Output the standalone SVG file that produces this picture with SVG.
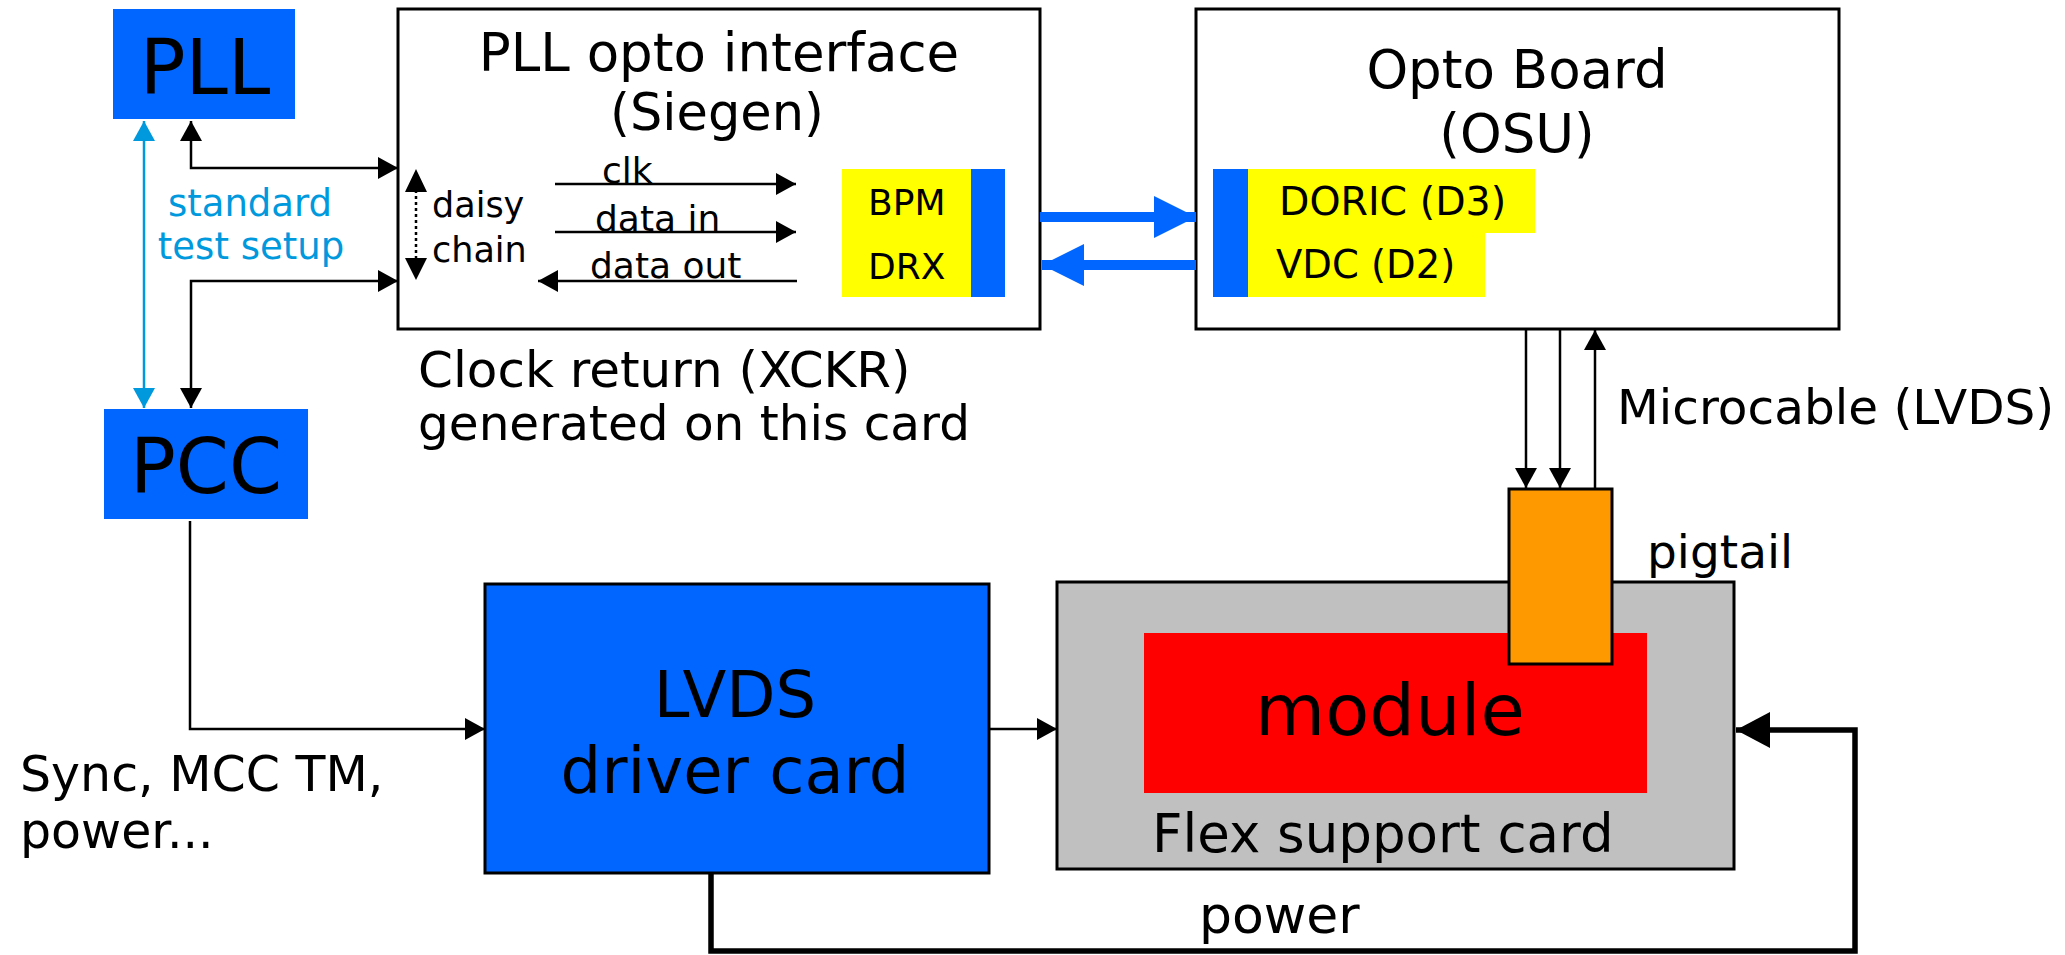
<svg xmlns="http://www.w3.org/2000/svg" width="2065" height="955" viewBox="0 0 2065 955">
<style>
text{font-family:"DejaVu Sans","Liberation Sans",sans-serif;fill:#000}
.c{text-anchor:middle}
.ln{fill:none;stroke:#000;stroke-width:2.5}
.bx{stroke:#000;stroke-width:3}
</style>
<defs>
<marker id="ah" markerUnits="userSpaceOnUse" viewBox="0 0 20 22" refX="20" refY="11" markerWidth="20" markerHeight="22" orient="auto-start-reverse"><path d="M0,0L20,11L0,22z" fill="#000"/></marker>
<marker id="ahc" markerUnits="userSpaceOnUse" viewBox="0 0 20 22" refX="20" refY="11" markerWidth="20" markerHeight="22" orient="auto-start-reverse"><path d="M0,0L20,11L0,22z" fill="#0099DD"/></marker>
<marker id="ahb" markerUnits="userSpaceOnUse" viewBox="0 0 42 42" refX="42" refY="21" markerWidth="42" markerHeight="42" orient="auto"><path d="M0,0L42,21L0,42z" fill="#0066FF"/></marker>
<marker id="ahp" markerUnits="userSpaceOnUse" viewBox="0 0 34 36" refX="34" refY="18" markerWidth="34" markerHeight="36" orient="auto"><path d="M0,0L34,18L0,36z" fill="#000"/></marker>
</defs>
<rect width="2065" height="955" fill="#fff"/>

<g id="pll-opto">
<rect x="398" y="9" width="642" height="320" fill="#fff" class="bx"/>
<text x="719" y="71" class="c" font-size="53">PLL opto interface</text>
<text x="717" y="130" class="c" font-size="51">(Siegen)</text>
<text x="432" y="217" font-size="35">daisy</text>
<text x="432" y="262" font-size="35">chain</text>
<text x="602" y="183" font-size="36">clk</text>
<text x="595" y="231" font-size="36">data in</text>
<text x="590" y="278" font-size="36">data out</text>
<rect x="842" y="169" width="129" height="64" fill="#FFFF00"/>
<rect x="842" y="233" width="129" height="64" fill="#FFFF00"/>
<rect x="971" y="169" width="34" height="128" fill="#0066FF"/>
<text x="868" y="215" font-size="36">BPM</text>
<text x="868" y="279" font-size="36">DRX</text>
</g>

<g id="opto-board">
<rect x="1196" y="9" width="643" height="320" fill="#fff" class="bx"/>
<text x="1517" y="88" class="c" font-size="53">Opto Board</text>
<text x="1517" y="152" class="c" font-size="53">(OSU)</text>
<rect x="1213" y="169" width="35" height="128" fill="#0066FF"/>
<rect x="1248" y="169" width="287" height="64" fill="#FFFF00"/>
<rect x="1248" y="233" width="237" height="64" fill="#FFFF00"/>
<text x="1279" y="215" font-size="39.5">DORIC (D3)</text>
<text x="1276" y="278" font-size="38.5">VDC (D2)</text>
</g>

<g id="pll">
<rect x="113" y="9" width="182" height="110" fill="#0066FF"/>
<text x="205" y="94" class="c" font-size="76">PLL</text>
</g>

<g id="pcc">
<rect x="104" y="409" width="204" height="110" fill="#0066FF"/>
<text x="206" y="493" class="c" font-size="76">PCC</text>
</g>

<g id="lvds">
<rect x="485" y="584" width="504" height="289" fill="#0066FF" class="bx"/>
<text x="735" y="717" class="c" font-size="64">LVDS</text>
<text x="735" y="793" class="c" font-size="64">driver card</text>
</g>

<g id="flex">
<rect x="1057" y="582" width="677" height="287" fill="#C0C0C0" class="bx"/>
<rect x="1144" y="633" width="503" height="160" fill="#FF0000"/>
<text x="1390" y="735" class="c" font-size="72">module</text>
<text x="1152" y="852" font-size="53">Flex support card</text>
</g>

<g id="pigtail">
<rect x="1509" y="489" width="103" height="175" fill="#FF9900" class="bx"/>
<text x="1647" y="568" font-size="47">pigtail</text>
</g>

<g id="labels">
<text x="250" y="216" class="c" font-size="37" style="fill:#0099DD">standard</text>
<text x="251" y="259" class="c" font-size="37" style="fill:#0099DD">test setup</text>
<text x="418" y="387" font-size="50">Clock return (XCKR)</text>
<text x="418" y="440" font-size="48.5">generated on this card</text>
<text x="1617" y="424" font-size="48.5">Microcable (LVDS)</text>
<text x="20" y="791" font-size="49">Sync, MCC TM,</text>
<text x="20" y="848" font-size="49">power...</text>
<text x="1199" y="933" font-size="52">power</text>
</g>

<g id="connectors">
<path d="M144,121V408" fill="none" stroke="#0099DD" stroke-width="2.5" marker-start="url(#ahc)" marker-end="url(#ahc)"/>
<path class="ln" d="M191,121V168H398" marker-start="url(#ah)" marker-end="url(#ah)"/>
<path class="ln" d="M398,281H191V408" marker-start="url(#ah)" marker-end="url(#ah)"/>
<path class="ln" d="M190,521V729H485" marker-end="url(#ah)"/>
<path class="ln" d="M989,729H1057" marker-end="url(#ah)"/>
<path class="ln" d="M555,184H796" marker-end="url(#ah)"/>
<path class="ln" d="M555,232H796" marker-end="url(#ah)"/>
<path class="ln" d="M797,281H538" marker-end="url(#ah)"/>
<path d="M416,190V260" fill="none" stroke="#000" stroke-width="2.5" stroke-dasharray="3,3"/>
<path d="M416,169L427,192H405z M416,280L427,258H405z" fill="#000"/>
<path d="M1040,217H1196" fill="none" stroke="#0066FF" stroke-width="10" marker-end="url(#ahb)"/>
<path d="M1196,265H1042" fill="none" stroke="#0066FF" stroke-width="10" marker-end="url(#ahb)"/>
<path class="ln" d="M1526,329V488" marker-end="url(#ah)"/>
<path class="ln" d="M1560,329V488" marker-end="url(#ah)"/>
<path class="ln" d="M1595,489V330" marker-end="url(#ah)"/>
<path d="M711,873V951H1855V730H1736" fill="none" stroke="#000" stroke-width="5.5" marker-end="url(#ahp)"/>
</g>
</svg>
